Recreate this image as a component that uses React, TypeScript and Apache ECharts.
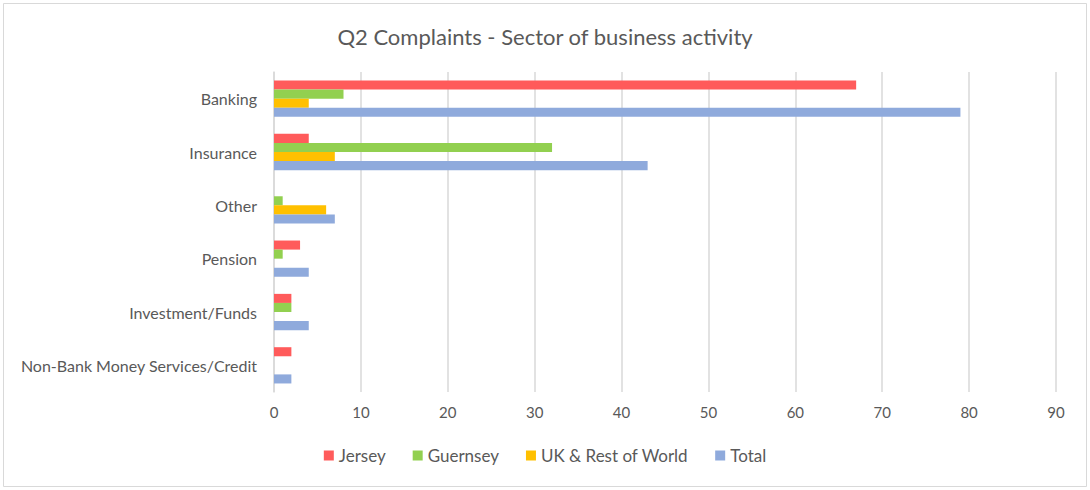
import React, { useEffect, useRef } from "react";
import * as echarts from "echarts";

const categories = [
  "Banking",
  "Insurance",
  "Other",
  "Pension",
  "Investment/Funds",
  "Non-Bank Money Services/Credit",
];
const jersey = [67, 4, 0, 3, 2, 2];
const guernsey = [8, 32, 1, 1, 2, 0];
const ukRest = [4, 7, 6, 0, 0, 0];
const total = [79, 43, 7, 4, 4, 2];
const seriesNames = ["Jersey", "Guernsey", "UK & Rest of World", "Total"];
const seriesColors = ["#FF5B5B", "#92D050", "#FFC000", "#8FAADC"];

const FONT = "Lato, 'Open Sans', sans-serif";

export default function App() {
  const ref = useRef<HTMLDivElement>(null);
  useEffect(() => {
    if (!ref.current) return;
    const chart = echarts.init(ref.current, undefined, { renderer: "svg" });
    const data = [jersey, guernsey, ukRest, total];
    chart.setOption({
      animation: false,
      backgroundColor: "#ffffff",
      textStyle: { fontFamily: FONT },
      title: {
        text: "Q2 Complaints - Sector of business activity",
        left: "center",
        top: 20,
        textStyle: { fontFamily: FONT, fontSize: 22, fontWeight: "normal", color: "#595959" },
      },
      graphic: [
        {
          type: "rect",
          shape: { x: 3.5, y: 3.5, width: 1083, height: 483 },
          style: { fill: "none", stroke: "#d9d9d9", lineWidth: 1 },
          silent: true,
        },
      ],
      legend: {
        bottom: 21,
        left: "center",
        itemWidth: 10,
        itemHeight: 10,
        itemGap: 27,
        icon: "rect",
        data: seriesNames,
        textStyle: { fontFamily: FONT, fontSize: 17, color: "#595959" },
      },
      grid: { left: 274, right: 34, top: 72, bottom: 98 },
      xAxis: {
        type: "value",
        min: 0,
        max: 90,
        interval: 10,
        axisLine: { show: false },
        axisTick: { show: false },
        axisLabel: { color: "#595959", fontSize: 15, fontFamily: FONT, margin: 12 },
        splitLine: { lineStyle: { color: "#d9d9d9", width: 1.5 } },
      },
      yAxis: {
        type: "category",
        inverse: true,
        data: categories,
        axisLine: { show: true, lineStyle: { color: "#d9d9d9", width: 1.5 } },
        axisTick: { show: false },
        axisLabel: { color: "#595959", fontSize: 16, fontFamily: FONT, margin: 17 },
      },
      series: seriesNames.map((name, i) => ({
        name,
        type: "bar",
        data: data[i],
        itemStyle: { color: seriesColors[i] },
        barGap: "0%",
        barCategoryGap: "32%",
      })),
    });
    return () => chart.dispose();
  }, []);
  return (
    <div
      ref={ref}
      style={{ position: "absolute", left: 0, top: 0, width: 1090, height: 490 }}
    />
  );
}
